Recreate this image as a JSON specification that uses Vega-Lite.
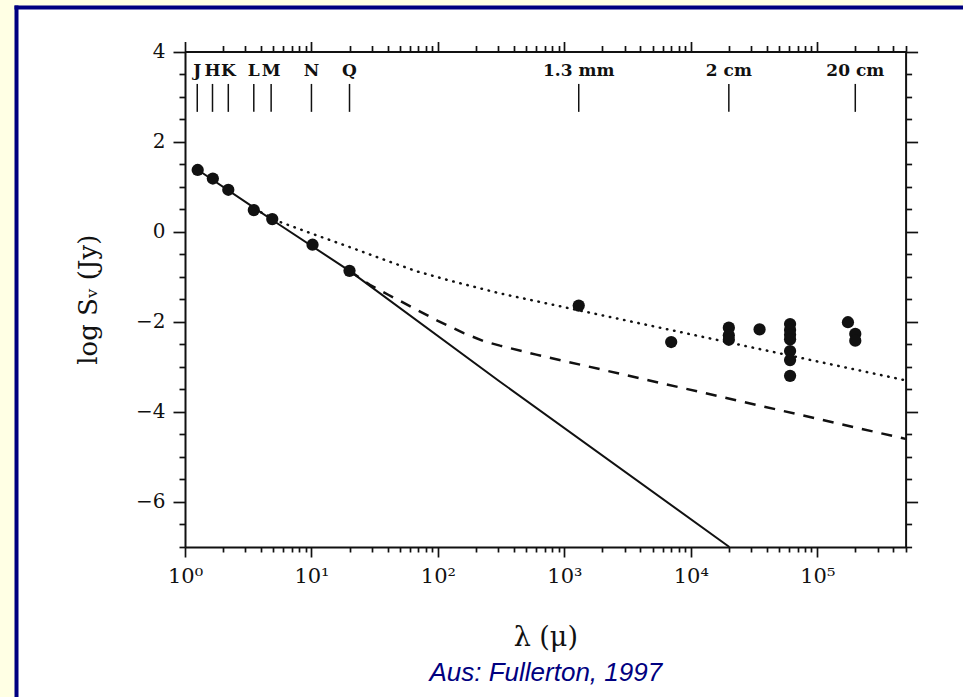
{
  "$schema": "https://vega.github.io/schema/vega-lite/v6.json",
  "width": 947,
  "height": 690,
  "autosize": {"type": "none"},
  "padding": {"left": 16, "top": 7, "right": 0, "bottom": 0},
  "background": "#FFFFE4",
  "config": {
    "view": {"fill": "white", "stroke": null},
    "axis": {
      "grid": false,
      "domainColor": "#111111",
      "tickColor": "#111111",
      "labelColor": "#111111",
      "titleColor": "#111111",
      "labelFont": "DejaVu Serif",
      "titleFont": "DejaVu Serif",
      "labelFontSize": 20,
      "titleFontSize": 22,
      "titleFontWeight": "normal",
      "domainWidth": 2,
      "tickWidth": 1.7,
      "labelFlush": false
    }
  },
  "datasets": {
    "points": [
      {"lam": 1.26, "logS": 1.37},
      {"lam": 1.66, "logS": 1.18},
      {"lam": 2.2, "logS": 0.93},
      {"lam": 3.5, "logS": 0.48},
      {"lam": 4.9, "logS": 0.28},
      {"lam": 10.2, "logS": -0.29},
      {"lam": 20, "logS": -0.87},
      {"lam": 1300, "logS": -1.64},
      {"lam": 7000, "logS": -2.45},
      {"lam": 20000, "logS": -2.13},
      {"lam": 20000, "logS": -2.3},
      {"lam": 20000, "logS": -2.4},
      {"lam": 35000, "logS": -2.17},
      {"lam": 61000, "logS": -2.05},
      {"lam": 61000, "logS": -2.18},
      {"lam": 61000, "logS": -2.29},
      {"lam": 61000, "logS": -2.39},
      {"lam": 61000, "logS": -2.65},
      {"lam": 61000, "logS": -2.85},
      {"lam": 61000, "logS": -3.2},
      {"lam": 175000, "logS": -2.01},
      {"lam": 200000, "logS": -2.27},
      {"lam": 200000, "logS": -2.42}
    ],
    "solid": [
      {"lam": 1.25, "logS": 1.38},
      {"lam": 4.9, "logS": 0.26},
      {"lam": 20, "logS": -0.87},
      {"lam": 310, "logS": -3.33},
      {"lam": 20200, "logS": -7}
    ],
    "dotted": [
      {"lam": 4.0, "logS": 0.43},
      {"lam": 5.6, "logS": 0.22},
      {"lam": 10, "logS": -0.04},
      {"lam": 20, "logS": -0.34},
      {"lam": 40, "logS": -0.65},
      {"lam": 68, "logS": -0.88},
      {"lam": 126, "logS": -1.09},
      {"lam": 310, "logS": -1.37},
      {"lam": 1300, "logS": -1.745},
      {"lam": 500000, "logS": -3.3}
    ],
    "dashed": [
      {"lam": 20, "logS": -0.87},
      {"lam": 29, "logS": -1.18},
      {"lam": 40.5, "logS": -1.4},
      {"lam": 100, "logS": -1.98},
      {"lam": 160, "logS": -2.25},
      {"lam": 230, "logS": -2.43},
      {"lam": 310, "logS": -2.53},
      {"lam": 600, "logS": -2.73},
      {"lam": 500000, "logS": -4.6}
    ],
    "bands": [
      {"label": "J", "lam": 1.25},
      {"label": "H", "lam": 1.65},
      {"label": "K", "lam": 2.2},
      {"label": "L", "lam": 3.5},
      {"label": "M", "lam": 4.8},
      {"label": "N", "lam": 10},
      {"label": "Q", "lam": 20},
      {"label": "1.3 mm", "lam": 1300},
      {"label": "2 cm", "lam": 20000},
      {"label": "20 cm", "lam": 200000}
    ]
  },
  "resolve": {"scale": {"x": "independent", "y": "independent"}, "axis": {"x": "independent", "y": "independent"}},
  "layer": [
    {
      "data": {"values": [{}]},
      "mark": {"type": "point", "opacity": 0},
      "encoding": {
        "x": {"datum": 0, "type": "quantitative",
          "scale": {"domain": [0, 1], "range": [0, 947], "nice": false, "zero": false},
          "axis": {"orient": "top", "offset": 0, "ticks": false, "labels": false, "title": null, "domainColor": "#000080", "domainWidth": 4, "domainCap": "square"}},
        "y": {"datum": 0, "type": "quantitative",
          "scale": {"domain": [0, 1], "range": [0, 690], "nice": false, "zero": false},
          "axis": {"orient": "left", "offset": 0, "ticks": false, "labels": false, "title": null, "domainColor": "#000080", "domainWidth": 4, "domainCap": "square"}}
      }
    },
    {
      "data": {"name": "solid"},
      "mark": {"type": "line", "color": "#111111", "strokeWidth": 2},
      "encoding": {
        "x": {"field": "lam", "type": "quantitative",
          "scale": {"type": "log", "domain": [1, 500000], "range": [169, 889.6], "nice": false},
          "axis": {"orient": "bottom", "offset": -150, "values": [2,3,4,5,6,7,8,9,20,30,40,50,60,70,80,90,200,300,400,500,600,700,800,900,2000,3000,4000,5000,6000,7000,8000,9000,20000,30000,40000,50000,60000,70000,80000,90000,200000,300000,400000,500000],
            "tickSize": 5, "labels": false, "domain": false,
            "title": "Aus: Fullerton, 1997", "titleFont": "Liberation Sans", "titleFontStyle": "italic", "titleFontSize": 26, "titleColor": "#000080", "titleY": 125, "titleBaseline": "middle"}},
        "y": {"field": "logS", "type": "quantitative",
          "scale": {"domain": [-7, 4], "range": [540, 44.5], "nice": false, "zero": false},
          "axis": {"orient": "left", "offset": -169, "values": [-7,-6.5,-5.5,-5,-4.5,-3.5,-3,-2.5,-1.5,-1,-0.5,0.5,1,1.5,2.5,3,3.5], "tickSize": 6, "labels": false, "domain": false, "title": null}}
      }
    },
    {
      "data": {"name": "dotted"},
      "mark": {"type": "line", "color": "#111111", "strokeWidth": 2.5, "strokeDash": [0.5, 6.8], "strokeCap": "round"},
      "encoding": {
        "x": {"field": "lam", "type": "quantitative",
          "scale": {"type": "log", "domain": [1, 500000], "range": [169, 889.6], "nice": false},
          "axis": {"orient": "top", "offset": -44.5, "values": [1,10,100,1000,10000,100000], "tickSize": 10, "labels": false, "title": null}},
        "y": {"field": "logS", "type": "quantitative",
          "scale": {"domain": [-7, 4], "range": [540, 44.5], "nice": false, "zero": false},
          "axis": {"orient": "right", "offset": -57.4, "values": [-6,-4,-2,0,2,4], "tickSize": 12, "labels": false, "title": null}}
      }
    },
    {
      "data": {"name": "dashed"},
      "mark": {"type": "line", "color": "#111111", "strokeWidth": 2.5, "strokeDash": [11, 9]},
      "encoding": {
        "x": {"field": "lam", "type": "quantitative",
          "scale": {"type": "log", "domain": [1, 500000], "range": [169, 889.6], "nice": false},
          "axis": {"orient": "top", "offset": -44.5, "values": [2,3,4,5,6,7,8,9,20,30,40,50,60,70,80,90,200,300,400,500,600,700,800,900,2000,3000,4000,5000,6000,7000,8000,9000,20000,30000,40000,50000,60000,70000,80000,90000,200000,300000,400000,500000],
            "tickSize": 6, "labels": false, "domain": false, "title": null}},
        "y": {"field": "logS", "type": "quantitative",
          "scale": {"domain": [-7, 4], "range": [540, 44.5], "nice": false, "zero": false},
          "axis": {"orient": "right", "offset": -57.4, "values": [-7,-6.5,-5.5,-5,-4.5,-3.5,-3,-2.5,-1.5,-1,-0.5,0.5,1,1.5,2.5,3,3.5], "tickSize": 6, "labels": false, "domain": false, "title": null}}
      }
    },
    {
      "data": {"name": "bands"},
      "mark": {"type": "rule", "color": "#111111", "strokeWidth": 1.5},
      "encoding": {
        "x": {"field": "lam", "type": "quantitative",
          "scale": {"type": "log", "domain": [1, 500000], "range": [169, 889.6], "nice": false}, "axis": null},
        "y": {"datum": 2.66, "type": "quantitative",
          "scale": {"domain": [-7, 4], "range": [540, 44.5], "nice": false, "zero": false}, "axis": null},
        "y2": {"datum": 3.28}
      }
    },
    {
      "data": {"name": "bands"},
      "mark": {"type": "text", "color": "#111111", "font": "DejaVu Serif", "fontSize": 17, "fontWeight": "bold", "align": "center", "baseline": "middle"},
      "encoding": {
        "x": {"field": "lam", "type": "quantitative",
          "scale": {"type": "log", "domain": [1, 500000], "range": [169, 889.6], "nice": false}, "axis": null},
        "y": {"datum": 3.567, "type": "quantitative",
          "scale": {"domain": [-7, 4], "range": [540, 44.5], "nice": false, "zero": false}, "axis": null},
        "text": {"field": "label"}
      }
    },
    {
      "data": {"name": "points"},
      "mark": {"type": "point", "filled": true, "shape": "circle", "color": "#111111", "opacity": 1, "size": 150},
      "encoding": {
        "x": {"field": "lam", "type": "quantitative",
          "scale": {"type": "log", "domain": [1, 500000], "range": [169, 889.6], "nice": false},
          "axis": {"orient": "bottom", "offset": -150, "values": [1,10,100,1000,10000,100000], "tickSize": 10, "labelPadding": 8, "labelFontSize": 21,
            "labelExpr": "datum.value == 1 ? '10⁰' : datum.value == 10 ? '10¹' : datum.value == 100 ? '10²' : datum.value == 1000 ? '10³' : datum.value == 10000 ? '10⁴' : '10⁵'",
            "title": "λ (μ)", "titleFontSize": 27, "titleY": 90, "titleBaseline": "middle"}},
        "y": {"field": "logS", "type": "quantitative",
          "scale": {"domain": [-7, 4], "range": [540, 44.5], "nice": false, "zero": false},
          "axis": {"orient": "left", "offset": -169, "values": [-6,-4,-2,0,2,4], "tickSize": 12, "labelPadding": 8,
            "title": "log Sᵥ (Jy)", "titleX": -97, "titleBaseline": "middle", "titleFontSize": 26}}
      }
    }
  ]
}
